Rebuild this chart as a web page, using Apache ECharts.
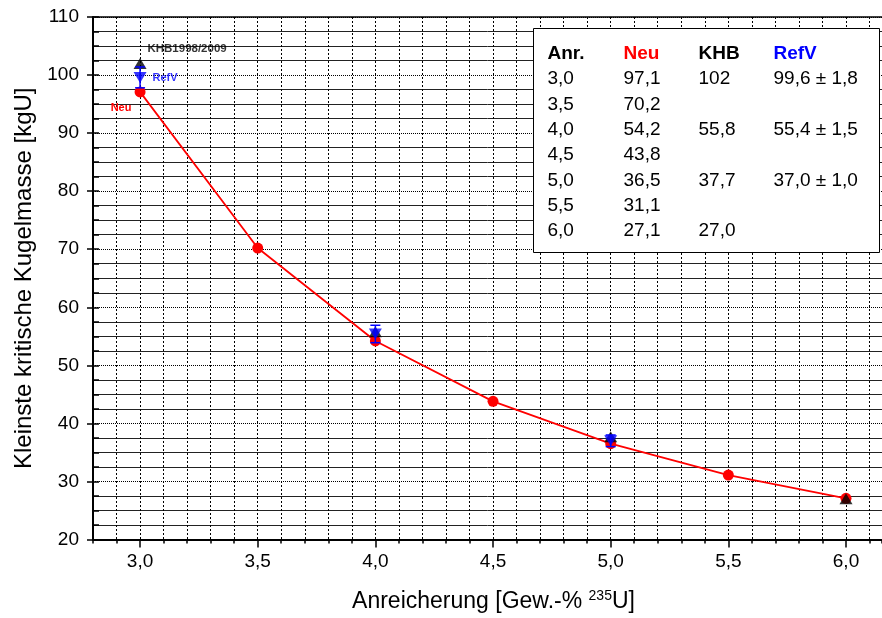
<!DOCTYPE html>
<html><head><meta charset="utf-8">
<script src="https://cdn.jsdelivr.net/npm/echarts@6/dist/echarts.min.js"></script>
<style>html,body{margin:0;padding:0;background:#fff}#c{width:882px;height:618px}</style>
</head><body><div id="c"></div>
<script>
// ---- data ----
const xNeu = [3.0, 3.5, 4.0, 4.5, 5.0, 5.5, 6.0];
const neu = [97.1, 70.2, 54.2, 43.8, 36.5, 31.1, 27.1];
const xKhb = [3.0, 4.0, 5.0, 6.0];
const khb = [102, 55.8, 37.7, 27.0];
const xRef = [3.0, 4.0, 5.0];
const refV = [99.6, 55.4, 37.0];
const refErr = [1.8, 1.5, 1.0];
const xTickValues = [3.0, 3.5, 4.0, 4.5, 5.0, 5.5, 6.0];
const tableHeaders = ['Anr.', 'Neu', 'KHB', 'RefV'];

const FONT = '"Liberation Sans", Arial, sans-serif';
const fmt1 = v => v.toFixed(1).replace('.', ',');
const fmtP = v => v.toPrecision(3).replace('.', ',');

const chart = echarts.init(document.getElementById('c'), null, {renderer: 'canvas'});

// table graphic
const colX = [14, 90, 165, 240];
const headColors = ['#000', '#ff0000', '#000', '#0000ff'];
const TZ = 100;
const tChildren = [{
  type: 'rect', z: TZ, shape: {x: 0, y: 0, width: 346, height: 224},
  style: {fill: '#fff', stroke: '#000', lineWidth: 1}
}];
tableHeaders.forEach((h, i) => tChildren.push({
  type: 'text', z: TZ + 1, style: {text: h, x: colX[i], y: 25, fill: headColors[i], fontSize: 19, fontWeight: 'bold', fontFamily: FONT, verticalAlign: 'middle'}
}));
xNeu.forEach((x, r) => {
  const y = 50.5 + r * 25.35;
  const cells = [fmt1(x), fmt1(neu[r])];
  const ki = xKhb.indexOf(x);
  cells.push(ki >= 0 ? fmtP(khb[ki]) : '');
  const ri = xRef.indexOf(x);
  cells.push(ri >= 0 ? fmtP(refV[ri]) + ' \u00b1 ' + fmt1(refErr[ri]) : '');
  cells.forEach((t, c) => {
    if (t) tChildren.push({type: 'text', z: TZ + 1, style: {text: t, x: colX[c], y: y, fill: '#000', fontSize: 19, fontFamily: FONT, verticalAlign: 'middle'}});
  });
});

const XMIN = 2.8, XMAX = 6.153;
const gridDot = {color: '#000', width: 1, type: [2, 2]};

const option = {
  backgroundColor: '#fff',
  animation: false,
  grid: {left: 93, top: 17, right: 0, bottom: 77, containLabel: false},
  xAxis: [{
    type: 'value', position: 'bottom', min: XMIN, max: XMAX, interval: 0.1,
    axisLine: {show: true, onZero: false, lineStyle: {color: '#000', width: 2}},
    axisTick: {show: true, length: 4, lineStyle: {color: '#000', width: 1.5}},
    axisLabel: {customValues: xTickValues, formatter: v => fmt1(v), color: '#000', fontSize: 19, fontFamily: FONT, margin: 13},
    splitLine: {show: true, lineStyle: gridDot},
    name: 'Anreicherung [Gew.-% {sup|235}U]', nameLocation: 'middle', nameGap: 50,
    nameTextStyle: {color: '#000', fontSize: 23, fontFamily: FONT, padding: [0, 0, 0, 12], rich: {sup: {fontSize: 14, fontFamily: FONT, color: '#000', verticalAlign: 'top', padding: [0, 0, 10, 0]}}}
  }, {
    type: 'value', position: 'bottom', min: XMIN, max: XMAX,
    axisLine: {show: false, onZero: false},
    axisTick: {show: true, customValues: xTickValues, length: 8, lineStyle: {color: '#000', width: 1.5}},
    axisLabel: {show: false}, splitLine: {show: false}
  }, {
    type: 'value', position: 'top', min: XMIN, max: XMAX,
    axisLine: {show: true, onZero: false, lineStyle: {color: '#000', width: 1.5}},
    axisTick: {show: false}, axisLabel: {show: false}, splitLine: {show: false}
  }],
  yAxis: [{
    type: 'value', position: 'left', min: 20, max: 110, interval: 10,
    axisLine: {show: true, onZero: false, lineStyle: {color: '#000', width: 2}},
    axisTick: {show: true, length: 6, lineStyle: {color: '#000', width: 1.5}},
    axisLabel: {color: '#000', fontSize: 19, fontFamily: FONT, margin: 14},
    splitLine: {show: true, lineStyle: {color: '#000', width: 1, type: [1, 1]}},
    minorTick: {show: false, splitNumber: 4},
    minorSplitLine: {show: true, lineStyle: {color: '#222', width: 1}},
    name: 'Kleinste kritische Kugelmasse [kgU]', nameLocation: 'middle', nameGap: 57,
    nameTextStyle: {color: '#000', fontSize: 24, fontFamily: FONT}
  }, {
    type: 'value', position: 'left', offset: 0, min: 20, max: 110, interval: 2.5,
    axisLine: {show: false, onZero: false},
    axisTick: {show: true, inside: true, length: 6, lineStyle: {color: '#000', width: 1.5}},
    axisLabel: {show: false}, splitLine: {show: false}
  }],
  series: [{
    name: 'Neu', type: 'line', xAxisIndex: 0, yAxisIndex: 0, z: 3,
    data: xNeu.map((x, i) => {
      const d = {value: [x, neu[i]]};
      if (i === 0) d.label = {show: true, formatter: 'Neu', position: 'inside', offset: [-19, 16], color: '#ff0000', fontSize: 11, fontWeight: 'bold', fontFamily: FONT};
      return d;
    }),
    symbol: 'circle', symbolSize: 11,
    itemStyle: {color: '#ff0000'}, lineStyle: {color: '#ff0000', width: 1.8}
  }, {
    name: 'KHB', type: 'scatter', z: 4,
    data: xKhb.map((x, i) => {
      const d = {value: [x, khb[i]]};
      if (i === 0) d.label = {show: true, formatter: 'KHB1998/2009', position: 'inside', offset: [47, -15], color: '#000', fontSize: 11.5, fontWeight: 'bold', fontFamily: FONT};
      return d;
    }),
    symbol: 'triangle', symbolSize: [13, 11], itemStyle: {color: '#000'}
  }, {
    name: 'RefVerr', type: 'custom', z: 5,
    data: xRef.map((x, i) => [x, refV[i], refErr[i]]),
    encode: {x: 0, y: 1},
    renderItem: function (params, api) {
      const x = api.value(0), v = api.value(1), e = api.value(2);
      const t = api.coord([x, v + e]), b = api.coord([x, v - e]);
      const hw = 5, st = {stroke: '#0000ff', lineWidth: 1.5};
      return {type: 'group', children: [
        {type: 'line', shape: {x1: t[0], y1: t[1], x2: b[0], y2: b[1]}, style: st},
        {type: 'line', shape: {x1: t[0] - hw, y1: t[1], x2: t[0] + hw, y2: t[1]}, style: st},
        {type: 'line', shape: {x1: b[0] - hw, y1: b[1], x2: b[0] + hw, y2: b[1]}, style: st}
      ]};
    }
  }, {
    name: 'RefV', type: 'scatter', z: 6,
    data: xRef.map((x, i) => {
      const d = {value: [x, refV[i]]};
      if (i === 0) d.label = {show: true, formatter: 'RefV', position: 'inside', offset: [25, 1], color: '#0000ff', fontSize: 11, fontWeight: 'bold', fontFamily: FONT};
      return d;
    }),
    symbol: 'triangle', symbolRotate: 180, symbolSize: [13, 11], itemStyle: {color: '#0000ff'}
  }],
  graphic: [{type: 'group', left: 533, top: 28, z: TZ, children: tChildren}]
};
chart.setOption(option);
</script>
</body></html>
